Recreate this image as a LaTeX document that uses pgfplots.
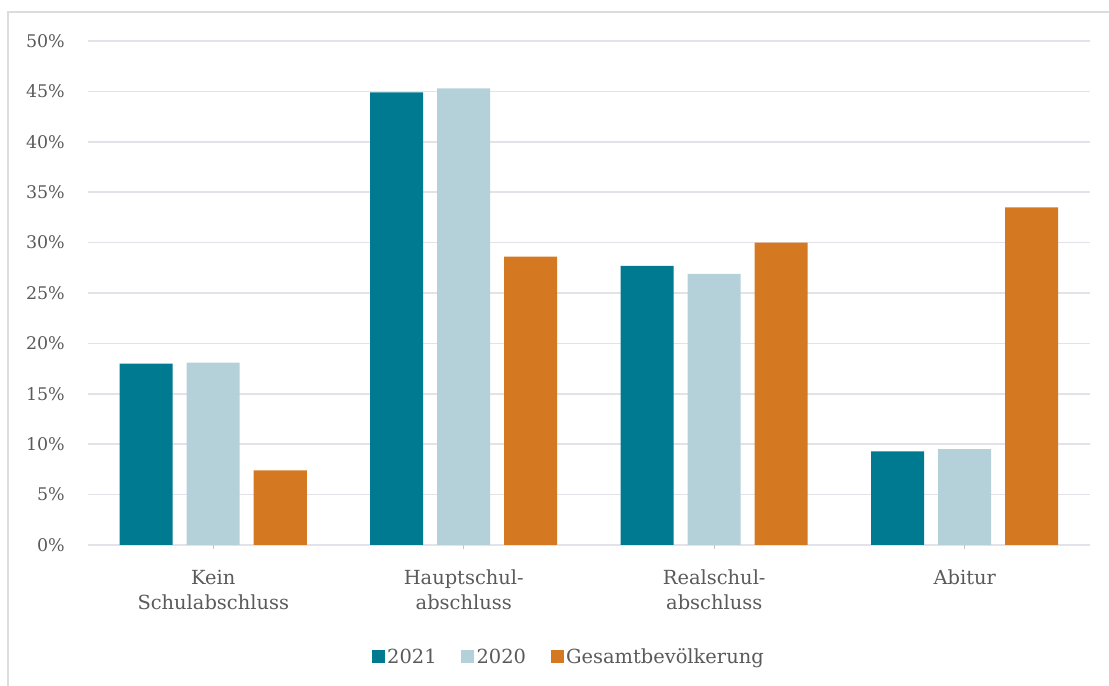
\documentclass[border=0pt]{standalone}
\usepackage{pgfplots}
\pgfplotsset{compat=1.18}
\usepackage{fontspec}
\setmainfont{DejaVu Serif}
\definecolor{cteal}{HTML}{007A91}
\definecolor{clight}{HTML}{B4D1D9}
\definecolor{corange}{HTML}{D47922}
\definecolor{cgrid}{HTML}{E2E2E8}
\definecolor{ctext}{HTML}{5A5A5A}
\definecolor{cframe}{HTML}{DCDCE0}
\begin{document}
\begin{tikzpicture}
\begin{axis}[
  at={(88bp,141bp)}, anchor=south west,
  scale only axis, width=1002bp, height=504bp,
  xmin=-0.5, xmax=3.5, ymin=0, ymax=50,
  /pgf/number format/assume math mode=true,
  axis line style={draw=none},
  ymajorgrids, grid style={cgrid, line width=1.5bp},
  ytick={0,5,...,50},
  yticklabels={0\%,5\%,10\%,15\%,20\%,25\%,30\%,35\%,40\%,45\%,50\%},
  ytick style={draw=none},
  yticklabel style={inner sep=0pt, xshift=-23bp, font=\fontsize{17.5}{20}\selectfont, text=ctext},
  xtick={0,1,2,3}, xtick pos=lower,
  xticklabels={Kein\\Schulabschluss, Hauptschul-\\abschluss, Realschul-\\abschluss, Abitur},
  xtick align=outside, major tick length=4bp,
  xtick style={cgrid!70!gray, line width=1bp},
  xticklabel style={align=center, anchor=north, inner sep=0pt, yshift=-21bp, font=\fontsize{19.5}{25}\selectfont, text=ctext},
  ybar, bar width=53bp,
  legend style={draw=none, at={(0.48,-0.222)}, anchor=center, legend columns=3,
    font=\fontsize{19.5}{22}\selectfont, text=ctext,
    /tikz/every even column/.append style={column sep=22bp},
    nodes={inner sep=2.5bp}},
  legend image code/.code={\fill[#1] (0bp,-6.5bp) rectangle (13bp,6.5bp);},
]
\addplot[fill=cteal, draw=none, bar shift=-67bp] coordinates {(0,18.0) (1,44.9) (2,27.7) (3,9.3)};
\addplot[fill=clight, draw=none, bar shift=0bp] coordinates {(0,18.1) (1,45.3) (2,26.9) (3,9.5)};
\addplot[fill=corange, draw=none, bar shift=67bp] coordinates {(0,7.4) (1,28.6) (2,30.0) (3,33.5)};
\legend{2021,2020,Gesamtbevölkerung}
\end{axis}
\draw[cframe, line width=1.5bp] (8bp,-2bp) -- (8bp,674bp) -- (1112bp,674bp);
\pgfresetboundingbox
\useasboundingbox (0,0) rectangle (1109bp,686bp);
\end{tikzpicture}
\end{document}
